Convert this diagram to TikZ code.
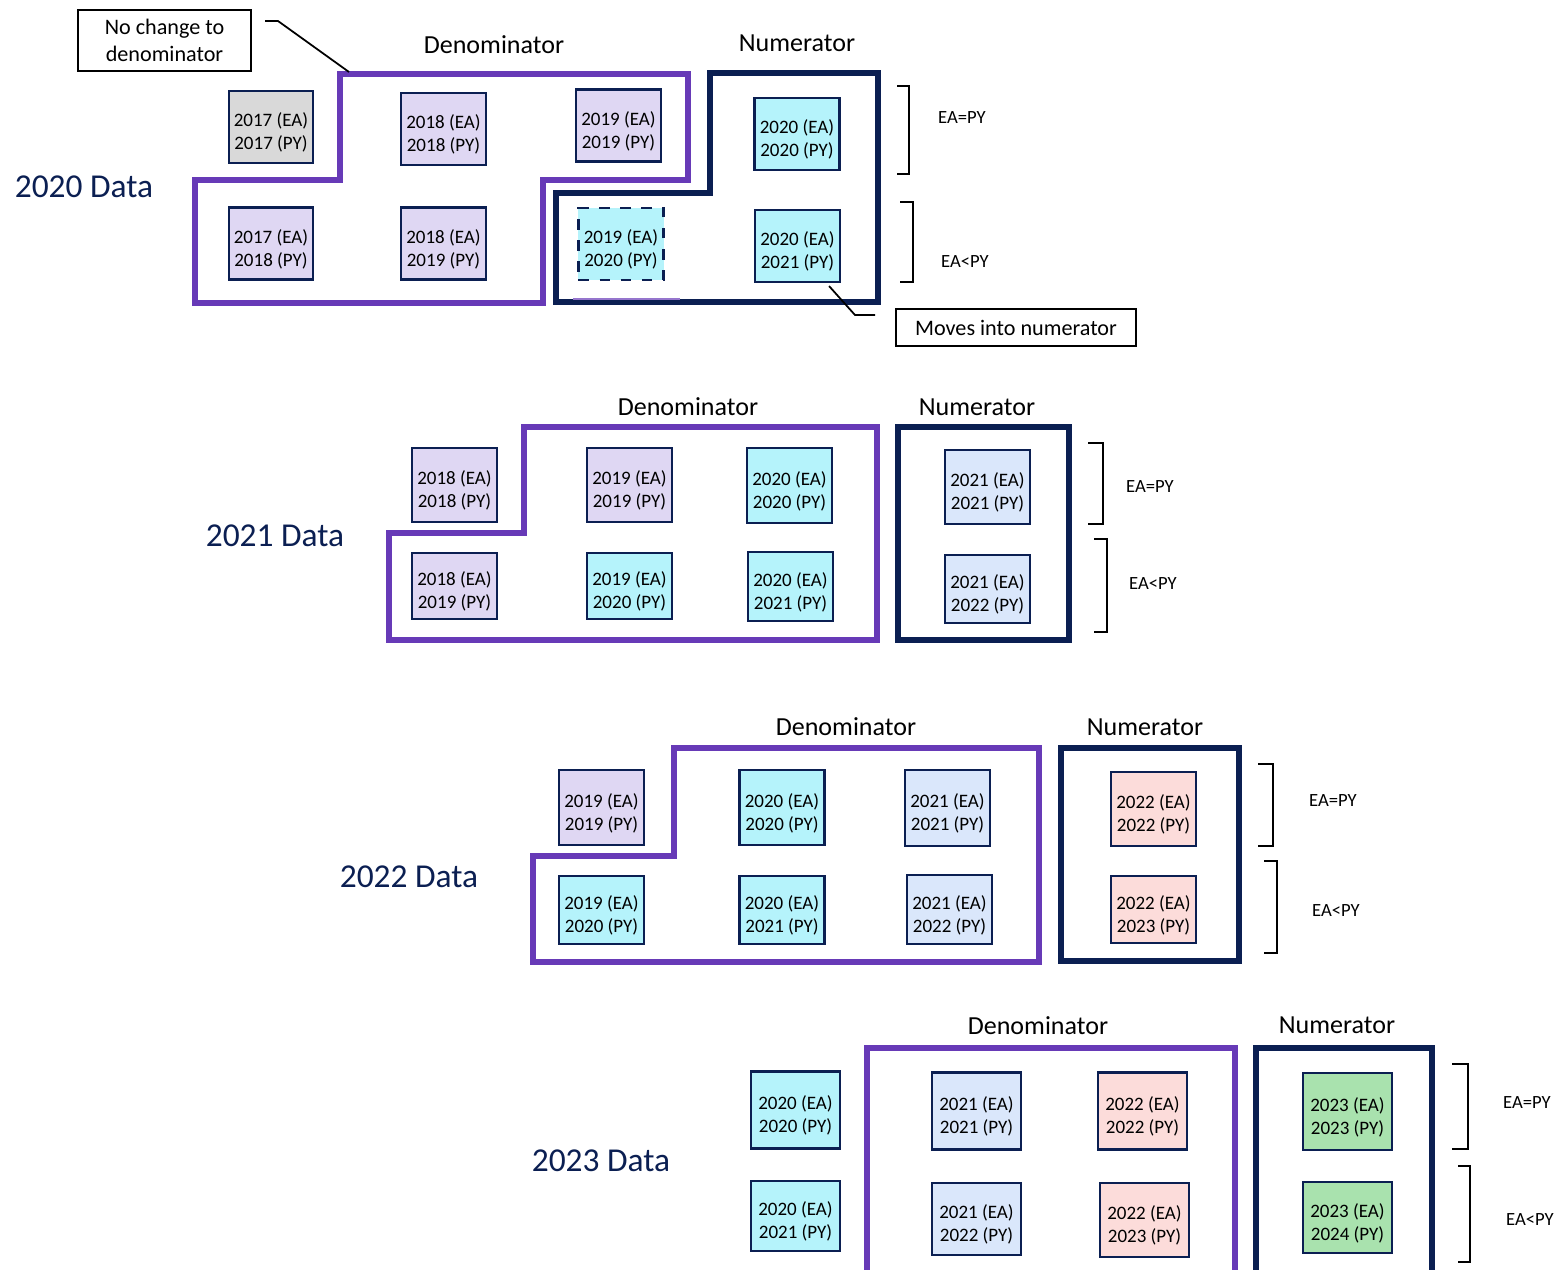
\documentclass[tikz,border=0pt]{standalone}
\usepackage{fontspec}
\setmainfont{Carlito}

\definecolor{denpurple}{HTML}{673AB7}
\definecolor{numnavy}{HTML}{0B1F52}
\definecolor{fillpurple}{HTML}{DFD7F3}
\definecolor{fillgray}{HTML}{D9D9D9}
\definecolor{fillcyan}{HTML}{B5F3FB}
\definecolor{fillblue}{HTML}{DAE7FB}
\definecolor{fillpink}{HTML}{FCDCDA}
\definecolor{fillgreen}{HTML}{A9E2AE}

% two-line box text, a little lower than centred
\newcommand{\eapy}[2]{\rule{0pt}{7.1pt}#1 (EA)\\#2 (PY)}

\tikzset{
  yearbox/.style={draw=numnavy, line width=0.6pt, minimum width=0.85cm,
    minimum height=0.72cm, inner sep=0pt, align=center,
    font=\fontsize{5.4}{6.5}\selectfont},
  tallbox/.style={yearbox, minimum height=0.77cm},
  denline/.style={draw=denpurple, line width=1.5pt},
  numline/.style={draw=numnavy, line width=1.5pt},
  bracket/.style={line width=0.7pt},
  datalabel/.style={text=numnavy, font=\fontsize{9.5}{11}\selectfont},
  headlabel/.style={font=\fontsize{7.4}{9}\selectfont},
  ealabel/.style={font=\fontsize{5.3}{6.5}\selectfont},
  callout/.style={draw, line width=0.5pt, align=center, inner sep=0pt,
    font=\fontsize{6.3}{7.6}\selectfont}
}

\begin{document}
\begin{tikzpicture}[x=0.01cm, y=-0.01cm]
\clip (0,0) rectangle (1557,1269);

% 2020 data
\node[datalabel] (t20) at (84,187) {2020 Data};
\node[headlabel] (den20) at (494,45) {Denominator};
\node[headlabel] (num20) at (797,43) {Numerator};
\draw[denline] (195,303) -- (195,180) -- (340,180) -- (340,74) -- (688,74)
  -- (688,180) -- (543,180) -- (543,303) -- cycle;
\draw[numline] (556,302) -- (556,193) -- (710,193) -- (710,73) -- (878,73)
  -- (878,302) -- cycle;
\draw[draw=denpurple!70, line width=0.6pt] (573,299) -- (680,299);

\node[yearbox, fill=fillgray, minimum width=0.84cm] (a17) at (271,127) {\eapy{2017}{2017}};
\node[yearbox, fill=fillpurple] (a18) at (443.5,129) {\eapy{2018}{2018}};
\node[yearbox, fill=fillpurple] (a19) at (618.5,125.5) {\eapy{2019}{2019}};
\node[yearbox, fill=fillcyan] (a20) at (797,134) {\eapy{2020}{2020}};
\node[yearbox, fill=fillpurple, minimum width=0.84cm] (b17) at (271,243.5) {\eapy{2017}{2018}};
\node[yearbox, fill=fillpurple] (b18) at (443.5,243.5) {\eapy{2018}{2019}};
\node[yearbox, fill=fillcyan, dashed] (b19) at (621,244) {\eapy{2019}{2020}};
\node[yearbox, fill=fillcyan] (b20) at (797.5,246) {\eapy{2020}{2021}};

\draw[bracket] (897,86) -- (909,86) -- (909,174) -- (897,174);
\draw[bracket] (900,202) -- (913,202) -- (913,282) -- (900,282);
\node[ealabel] (eq20) at (962,118) {EA=PY};
\node[ealabel] (lt20) at (965,262) {EA<PY};

% callouts
\node[callout, minimum width=1.73cm, minimum height=0.61cm] (nochange) at (164.5,40.5) {No change to\\denominator};
\coordinate (nochangeend) at (265,21);
\draw[line width=0.5pt] (nochangeend) -- (278,21) -- (349,72);
\node[callout, minimum width=2.4cm, minimum height=0.37cm] (moves) at (1016,327.5) {Moves into numerator};
\coordinate (movesend) at (875,315);
\draw[line width=0.5pt] ([shift={(-12,3)}]b20.south east) -- (855,315) -- (movesend);

% 2021 data
\node[datalabel] (t21) at (275,536) {2021 Data};
\node[headlabel] (den21) at (688,407) {Denominator};
\node[headlabel] (num21) at (977,407) {Numerator};
\draw[denline] (389,640) -- (389,533) -- (524,533) -- (524,427) -- (877,427)
  -- (877,640) -- cycle;
\draw[numline] (898,427) rectangle (1069,640);

\node[yearbox, fill=fillpurple, minimum height=0.74cm] (c18) at (454.5,485) {\eapy{2018}{2018}};
\node[yearbox, fill=fillpurple, minimum height=0.74cm] (c19) at (629.5,485) {\eapy{2019}{2019}};
\node[yearbox, fill=fillcyan, minimum height=0.75cm] (c20) at (789.5,485.5) {\eapy{2020}{2020}};
\node[yearbox, fill=fillpurple, minimum height=0.66cm] (d18) at (454.5,586) {\eapy{2018}{2019}};
\node[yearbox, fill=fillcyan, minimum height=0.66cm] (d19) at (629.5,586) {\eapy{2019}{2020}};
\node[yearbox, fill=fillcyan, minimum height=0.69cm] (d20) at (790.5,586.5) {\eapy{2020}{2021}};
\node[yearbox, fill=fillblue, minimum height=0.74cm] (c21) at (987.5,487) {\eapy{2021}{2021}};
\node[yearbox, fill=fillblue, minimum height=0.68cm] (d21) at (987.5,589) {\eapy{2021}{2022}};

\draw[bracket] (1088,443) -- (1103,443) -- (1103,524) -- (1088,524);
\draw[bracket] (1094,539) -- (1107,539) -- (1107,632) -- (1094,632);
\node[ealabel] (eq21) at (1150,487) {EA=PY};
\node[ealabel] (lt21) at (1153,584) {EA<PY};

% 2022 data
\node[datalabel] (t22) at (409,877) {2022 Data};
\node[headlabel] (den22) at (846,727) {Denominator};
\node[headlabel] (num22) at (1145,727) {Numerator};
\draw[denline] (533,962) -- (533,856) -- (674,856) -- (674,748) -- (1039,748)
  -- (1039,962) -- cycle;
\draw[numline] (1061,748) rectangle (1239,961);

\node[yearbox, fill=fillpurple, minimum height=0.75cm] (e19) at (601.5,807.5) {\eapy{2019}{2019}};
\node[yearbox, fill=fillcyan, minimum height=0.75cm] (e20) at (782,807.5) {\eapy{2020}{2020}};
\node[yearbox, fill=fillblue, minimum height=0.76cm] (e21) at (947.5,808) {\eapy{2021}{2021}};
\node[yearbox, fill=fillcyan, minimum height=0.68cm] (f19) at (601.5,910) {\eapy{2019}{2020}};
\node[yearbox, fill=fillcyan, minimum height=0.68cm] (f20) at (782,910) {\eapy{2020}{2021}};
\node[yearbox, fill=fillblue, minimum height=0.69cm] (f21) at (949.5,909.5) {\eapy{2021}{2022}};
\node[yearbox, fill=fillpink, minimum height=0.74cm] (e22) at (1153.5,809) {\eapy{2022}{2022}};
\node[yearbox, fill=fillpink, minimum height=0.67cm] (f22) at (1153.5,909.5) {\eapy{2022}{2023}};

\draw[bracket] (1258,764) -- (1273,764) -- (1273,846) -- (1258,846);
\draw[bracket] (1264,861) -- (1277,861) -- (1277,953) -- (1264,953);
\node[ealabel] (eq22) at (1333,801) {EA=PY};
\node[ealabel] (lt22) at (1336,911) {EA<PY};

% 2023 data
\node[datalabel] (t23) at (601,1161) {2023 Data};
\node[headlabel] (den23) at (1038,1026) {Denominator};
\node[headlabel] (num23) at (1337,1025) {Numerator};
\draw[denline] (867,1048) rectangle (1235,1290);
\draw[numline] (1256,1048) rectangle (1432,1290);

\node[tallbox, fill=fillcyan, minimum width=0.89cm] (g20) at (795.5,1110) {\eapy{2020}{2020}};
\node[yearbox, fill=fillcyan, minimum width=0.89cm, minimum height=0.70cm] (h20) at (795.5,1216) {\eapy{2020}{2021}};
\node[tallbox, fill=fillblue, minimum width=0.89cm] (g21) at (976.5,1111) {\eapy{2021}{2021}};
\node[yearbox, fill=fillblue, minimum width=0.89cm] (h21) at (976.5,1219) {\eapy{2021}{2022}};
\node[tallbox, fill=fillpink, minimum width=0.89cm] (g22) at (1142.5,1111) {\eapy{2022}{2022}};
\node[yearbox, fill=fillpink, minimum width=0.89cm, minimum height=0.74cm] (h22) at (1144.5,1220) {\eapy{2022}{2023}};
\node[tallbox, fill=fillgreen, minimum width=0.89cm] (g23) at (1347.5,1111.5) {\eapy{2023}{2023}};
\node[yearbox, fill=fillgreen, minimum width=0.89cm, minimum height=0.71cm] (h23) at (1347.5,1217.5) {\eapy{2023}{2024}};

\draw[bracket] (1452,1064) -- (1468,1064) -- (1468,1149) -- (1452,1149);
\draw[bracket] (1458,1166) -- (1470,1166) -- (1470,1262) -- (1458,1262);
\node[ealabel] (eq23) at (1527,1103) {EA=PY};
\node[ealabel] (lt23) at (1530,1219) {EA<PY};

\end{tikzpicture}
\end{document}
